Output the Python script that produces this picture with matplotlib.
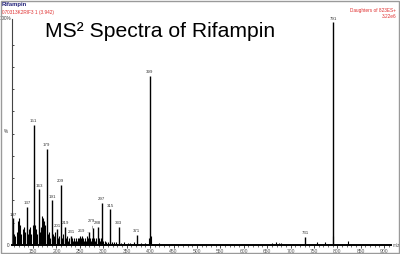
import matplotlib
matplotlib.use('Agg')
import matplotlib.pyplot as plt
from matplotlib.patches import Rectangle

plt.rcParams['font.family'] = ['Liberation Sans', 'DejaVu Sans']

# labelled peaks (m/z, relative intensity %)
peak_mz = [107, 137, 151, 163, 179, 191, 201, 209, 219, 231, 269, 279, 288,
           297, 315, 333, 371, 399, 731, 791]
peak_int = [12, 17, 54, 25, 43, 20, 7, 27, 8, 4, 6, 7.5, 8,
            19, 16, 8, 4.5, 76, 3.5, 100]
peak_lab = ['107', '137', '151', '163', '179', '191', '201', '209', '219', '231',
            '269', '279', '288', '297', '315', '333', '371', '399', '731', '791']

# unlabelled minor peaks
minor_mz = [110, 112, 115, 118, 120, 122, 125, 128, 131, 133, 139, 141, 143, 146,
            149, 153, 155, 157, 159, 165, 167, 169, 171, 173, 175, 181, 183, 185,
            187, 193, 195, 197, 203, 205, 211, 213, 215, 221, 223, 225, 227, 233,
            235, 237, 239, 241, 243, 245, 247, 249, 251, 253, 255, 257, 259, 261,
            263, 265, 267, 271, 273, 275, 281, 283, 285, 291, 293, 295, 300, 303,
            306, 310, 318, 322, 327, 338, 345, 352, 358, 365, 380, 390, 397, 401,
            420, 660, 668, 675, 680, 757, 774, 790, 823]
minor_int = [5, 4, 6, 11, 12, 9, 5, 7, 8, 6, 5, 7, 8, 5,
             9, 6, 9, 7, 5, 6, 8, 13, 12, 11, 9, 5, 4, 6,
             3, 5, 4, 6, 3, 4, 3, 5, 3, 3, 4, 2, 3, 3,
             2, 3, 2, 3, 2, 3, 2, 3, 4, 3, 4, 3, 2, 3,
             2, 4, 3, 3, 2, 3, 3, 2, 3, 3, 2, 3, 2, 2,
             1.5, 1.5, 1.5, 1.5, 1.5, 1, 1.5, 1, 1, 1.5, 1, 1, 3, 4,
             0.8, 1, 1.2, 1, 1, 1.2, 1.5, 4, 2]

# labels drawn to the side with a short leader line
side_labels = {'269': (-16, 0.3), '279': (-5, 3.5)}

fig = plt.figure(figsize=(4, 2.54), dpi=100)
fig.patches.append(Rectangle((0.002, 0.002), 0.995, 0.994, transform=fig.transFigure,
                             fill=False, edgecolor='#9a9a9a', linewidth=1.0))
ax = fig.add_axes([0.03, 0.0354, 0.948, 0.89])

ax.vlines(minor_mz, 0, minor_int, color='black', linewidth=0.8)
ax.vlines(peak_mz, 0, peak_int, color='black', linewidth=1.0)

for mz, h, lab in zip(peak_mz, peak_int, peak_lab):
    if lab in side_labels:
        dx, dy = side_labels[lab]
        ax.annotate(lab, xy=(mz - 1, h - 0.3), xytext=(mz + dx, h + dy),
                    fontsize=3.2, color='#333333', ha='center', va='center',
                    arrowprops=dict(arrowstyle='-', lw=0.3, color='#333333',
                                    shrinkA=0.5, shrinkB=0))
    else:
        ax.text(mz, h + 0.8, lab, fontsize=3.2, color='#333333',
                ha='center', va='bottom')

ax.set_xlim(105, 915)
ax.set_ylim(0, 101.5)
ax.set_xticks(range(150, 901, 50))
ax.set_xticklabels([str(v) for v in range(150, 901, 50)])
ax.set_xticks(range(110, 911, 10), minor=True)
ax.tick_params(axis='x', which='major', direction='out', length=2, width=0.5,
               labelsize=3.6, labelcolor='#555555', pad=1)
ax.tick_params(axis='x', which='minor', direction='out', length=1.2, width=0.4)
ax.set_yticks(range(10, 100, 10))
ax.set_yticklabels([])
ax.tick_params(axis='y', direction='in', length=1.5, width=0.5)

ax.spines['top'].set_visible(False)
ax.spines['right'].set_visible(False)
ax.spines['bottom'].set_linewidth(1.4)
ax.spines['left'].set_linewidth(0.8)
ax.spines['left'].set_color('#444444')

ax.text(-0.003, 1.0, '100%', transform=ax.transAxes, fontsize=3.3,
        color='#333333', ha='right', va='center')
ax.text(-0.012, 0.5, '%', transform=ax.transAxes, fontsize=3.3,
        color='#333333', ha='right', va='center')
ax.text(-0.008, 0.0, '0', transform=ax.transAxes, fontsize=3.3,
        color='#333333', ha='right', va='center')
fig.text(0.982, 0.032, 'm/z', fontsize=3.3, color='#555555',
         ha='left', va='center')

fig.text(0.005, 0.992, 'Rifampin', fontsize=4.2, fontweight='bold',
         color='#22227a', ha='left', va='top')
fig.text(0.005, 0.962, '070313K2RIF3 1 (3.942)', fontsize=3.4,
         color='#e03030', ha='left', va='top')
fig.text(0.99, 0.96, 'Daughters of 823ES+', fontsize=3.4,
         color='#e03030', ha='right', va='center')
fig.text(0.99, 0.936, '3.22e6', fontsize=3.4,
         color='#e03030', ha='right', va='center')
fig.text(0.112, 0.855, 'MS\u00b2 Spectra of Rifampin', fontsize=15.2,
         color='black', ha='left', va='baseline')

fig.savefig('out.png', dpi=100)
